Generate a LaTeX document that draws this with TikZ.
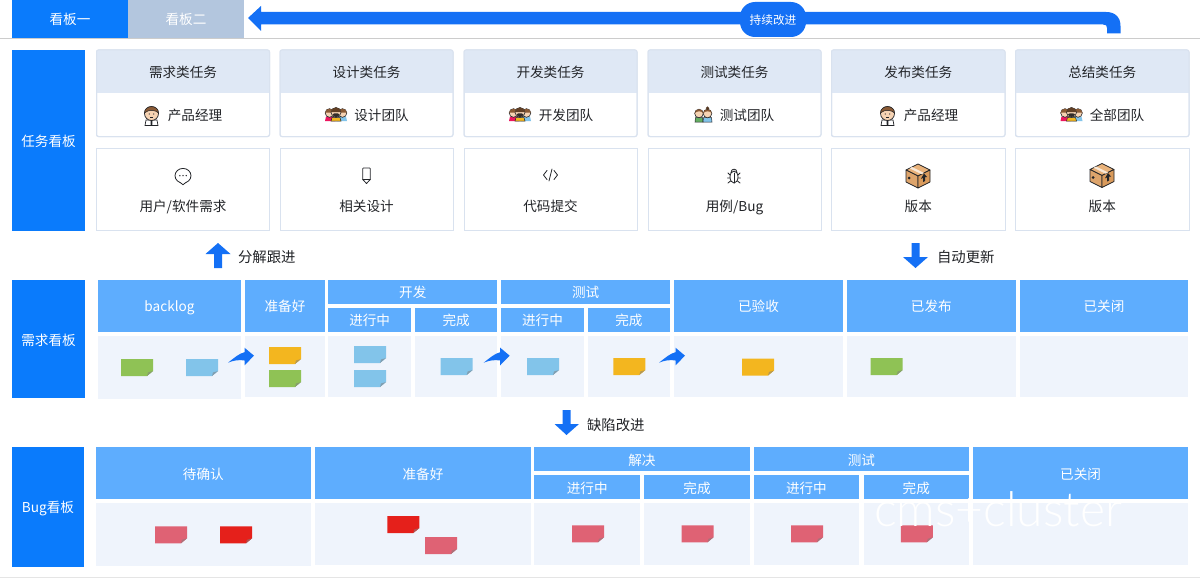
\documentclass[tikz,border=0pt]{standalone}
\usepackage{fontspec}
\setmainfont{Noto Sans CJK SC}
\newfontfamily\wmfont{Lato Light}
\definecolor{prim}{HTML}{0A7BFC}
\definecolor{arr}{HTML}{1470F5}
\definecolor{hdr}{HTML}{5EADFE}
\definecolor{bodyc}{HTML}{EFF4FC}
\definecolor{cardh}{HTML}{DFE8F5}
\definecolor{cardb}{HTML}{D9E2EF}
\definecolor{txt}{HTML}{222428}
\definecolor{tabb}{HTML}{B3C6DE}
\definecolor{sgreen}{HTML}{8FC255}
\definecolor{sblue}{HTML}{82C4EA}
\definecolor{sorange}{HTML}{F3B61F}
\definecolor{spink}{HTML}{DF6274}
\definecolor{sred}{HTML}{E5201B}
\definecolor{skin}{HTML}{F6D3B3}
\definecolor{hair}{HTML}{8A5A35}
\definecolor{boxa}{HTML}{E9B27A}
\definecolor{boxb}{HTML}{D99A5B}
\tikzset{
  every node/.style={inner sep=0pt,outer sep=0pt,text height=12pt,text depth=0pt,font=\fontsize{13.6}{16}\selectfont},
  blockbox/.style={fill=prim,text=white},
  tabone/.style={fill=prim,text=white},
  tabtwo/.style={fill=tabb,text=white},
  hdrbox/.style={fill=hdr,text=white},
  bodybox/.style={fill=bodyc},
  cardhead/.style={fill=cardh,text=txt},
  cardouter/.style={draw=cardb,line width=1pt,rounded corners=2pt},
  cardlow/.style={draw=cardb,line width=1pt,fill=white},
  lbl/.style={text=txt},
  caption/.style={text=txt,anchor=west,font=\fontsize{14.4}{16}\selectfont},
  icon/.style={draw=txt,line width=0.8pt,line join=round,line cap=round},
  pics/manager/.style={code={
    \fill[white,draw=txt,line width=.7pt] (-6.5,10) -- (-5.5,4.5) -- (5.5,4.5) -- (6.5,10) -- cycle;
    \fill[txt] (-1,4.5) -- (1,4.5) -- (0.7,10) -- (-0.7,10) -- cycle;
    \fill[skin,draw=txt,line width=.7pt] (0,-2) circle (7);
    \fill[hair,draw=txt,line width=.5pt] (-7,-2.5) .. controls (-7,-11) and (7,-11) .. (7,-2.5) .. controls (4.5,-5.5) and (-3,-6.5) .. (-7,-2.5) -- cycle;
    \fill[txt] (-2.3,-1.5) circle (.6) (2.3,-1.5) circle (.6);
    \draw[txt,line width=.5pt] (-1.3,1.5) .. controls (-.5,2.3) and (.5,2.3) .. (1.3,1.5);
  }},
  pics/team/.style={code={
    \fill[sred!70!magenta] (-11,7) -- (-10,2.5) -- (-3,2.5) -- (-1,7) -- cycle;
    \fill[sblue] (11,7) -- (10,2.5) -- (3,2.5) -- (1,7) -- cycle;
    \fill[skin,draw=txt,line width=.6pt] (-6.5,-1) circle (4.3);
    \fill[skin,draw=txt,line width=.6pt] (6.5,-1) circle (4.3);
    \fill[hair] (-10.8,-1.5) .. controls (-10,-6.5) and (-3,-6.5) .. (-2.2,-1.5) -- cycle;
    \fill[hair] (10.8,-1.5) .. controls (10,-6.5) and (3,-6.5) .. (2.2,-1.5) -- cycle;
    \fill[sorange,draw=txt,line width=.5pt] (-5,7) -- (-4,3.5) -- (4,3.5) -- (5,7) -- cycle;
    \fill[skin,draw=txt,line width=.6pt] (0,-1.5) circle (5);
    \fill[hair!70!black] (-5,-2) .. controls (-4.5,-8) and (4.5,-8) .. (5,-2) -- cycle;
    \fill[txt!85!hair] (-3.5,.2) .. controls (-2,-1) and (2,-1) .. (3.5,.2) .. controls (3,4) and (-3,4) .. (-3.5,.2) -- cycle;
  }},
  pics/testers/.style={code={
    \fill[sgreen!70!teal,draw=txt,line width=.5pt] (-8.5,7.5) -- (-8,3) -- (-1,3) -- (-.5,7.5) -- cycle;
    \fill[sblue,draw=txt,line width=.5pt] (8.5,7.5) -- (8,3) -- (0,3) -- (-.5,7.5) -- cycle;
    \fill[skin,draw=txt,line width=.6pt] (-4.5,-1) circle (4.3);
    \fill[skin,draw=txt,line width=.6pt] (4,-1) circle (4.3);
    \fill[hair] (-8.8,-1.5) .. controls (-8,-6.5) and (-1,-6.5) .. (-.2,-1.5) .. controls (-3,-4) and (-6,-3.5) .. (-8.8,-1.5) -- cycle;
    \fill[hair] (-.3,-1.5) .. controls (.5,-6.5) and (7.5,-6.5) .. (8.3,-1.5) .. controls (6,-4) and (2,-3.5) .. (-.3,-1.5) -- cycle;
    \fill[hair!60!black] (4,-6.3) circle (1.8);
  }},
  pics/parcel/.style={code={
    \fill[boxa,draw=txt,line width=.7pt,line join=round] (0,-12) -- (12,-6) -- (0,0) -- (-12,-6) -- cycle;
    \fill[boxb!90!white,draw=txt,line width=.7pt,line join=round] (-12,-6) -- (0,0) -- (0,12) -- (-12,6) -- cycle;
    \fill[boxb,draw=txt,line width=.7pt,line join=round] (12,-6) -- (0,0) -- (0,12) -- (12,6) -- cycle;
    \fill[white!70!boxa] (-6,-9) -- (6,-3) -- (3.6,-1.8) -- (-8.4,-7.8) -- cycle;
    \fill[txt] (6,-2.5) -- (9,1) -- (7,1) -- (7,5) -- (5,6) -- (5,2) -- (3,2.8) -- cycle;
    \fill[txt] (-9,2) circle (1.5);
  }},
  pics/bubble/.style={code={
    \draw[icon,fill=white] (0,-.3) ellipse (8 and 7.3);
    \fill[white] (-2.6,6.2) -- (2.6,6.2) -- (0,8.7) -- cycle;
    \draw[icon] (-2.6,6.7) -- (0,8.7) -- (2.6,6.7);
    \fill[txt] (-3.2,-.3) circle (.75) (0,-.3) circle (.75) (3.2,-.3) circle (.75);
  }},
  pics/pencil/.style={code={
    \draw[icon] (-3.7,-7) .. controls (-3.7,-7.5) .. (-3,-7.5) -- (3,-7.5) .. controls (3.7,-7.5) .. (3.7,-7) -- (3.7,4) -- (0,8) -- (-3.7,4) -- cycle;
    \draw[icon] (-3.7,4) -- (3.7,4);
  }},
  pics/codemark/.style={code={
    \draw[icon] (-3.5,-4.5) -- (-7,0) -- (-3.5,4.5);
    \draw[icon] (3.5,-4.5) -- (7,0) -- (3.5,4.5);
    \draw[icon] (1.5,-6) -- (-1.5,6);
  }},
  pics/bugmark/.style={code={
    \draw[icon] (0,1) ellipse (4 and 6);
    \draw[icon] (-3,-3.5) .. controls (-3,-8) and (3,-8) .. (3,-3.5);
    \draw[icon] (0,-3) -- (0,7);
    \draw[icon] (-4,-1) -- (-6,-3) (4,-1) -- (6,-3) (-4,2) -- (-6.5,2) (4,2) -- (6.5,2) (-3.5,5) -- (-6,7) (3.5,5) -- (6,7);
  }}
}
\newcommand{\rbox}[6]{\node[#1,minimum width={(#4-#2)*1pt},minimum height={(#5-#3)*1pt}] (#6) at ({(#2+#4)/2},{(#3+#5)/2})}
\newcommand{\sticky}[3]{%
  \fill[#3] (#1,#2) -- ++(32,0) -- ++(0,12) -- ++(-6,5) -- ++(-26,0) -- cycle;
  \fill[#3!45!gray] ({#1+26},{#2+17}) -- ({#1+32},{#2+12}) -- ({#1+27},{#2+13.5}) -- cycle;}
\newcommand{\curvearrow}[1]{%
  \fill[arr] (#1,362.7) .. controls ({#1+6},358) and ({#1+11},353.5) .. ({#1+16.5},352.2) -- ({#1+16.5},347.7) -- ({#1+26},355.7) -- ({#1+16.5},365.3) -- ({#1+16.5},360.5) .. controls ({#1+11},359.5) and ({#1+5},360.5) .. (#1,362.7) -- cycle;}
\newcommand{\cardset}[7]{%
  \path[cardouter,fill=white] (#2,50) rectangle (#3,136.5);
  \begin{scope}
    \clip[rounded corners=2pt] (#2,50) rectangle (#3,136.5);
    \rbox{cardhead}{#2}{50}{#3}{92.7}{h#1} {#4};
  \end{scope}
  \path[cardouter] (#2,50) rectangle (#3,136.5);
  \node[lbl] (r#1) at (#7,114.5) {#6};
  \rbox{cardlow}{#2+1}{148}{#3-1}{230.7}{l#1} {};
  \node[lbl] (t#1) at ({(#2+#3)/2},205) {#5};}
\begin{document}
\begin{tikzpicture}[x=1pt,y=-1pt]
\useasboundingbox (0,0) rectangle (1200,578);
\fill[white] (0,0) rectangle (1200,578);
\draw[color=black!20,line width=1pt] (0,38.5) -- (1200,38.5);
\draw[color=black!10,line width=1pt] (0,577.5) -- (1200,577.5);
\rbox{tabone}{12}{0}{128}{38}{taba} {看板一};
\rbox{tabtwo}{128}{0}{244}{38}{tabb} {看板二};
\fill[arr] (248,18) -- (261,6) -- (261,12) -- (1106,12) .. controls (1115,12) and (1120.5,17) .. (1120.5,26) -- (1120.5,33.5) -- (1107,33.5) -- (1107,28) .. controls (1107,25.5) and (1106,24.5) .. (1103,24.5) -- (261,24.5) -- (261,31) -- cycle;
\node[fill=arr,text=white,rounded corners=15pt,minimum width=66pt,minimum height=35pt,text height=10.5pt,font=\fontsize{11.7}{14}\selectfont] (pill) at (773,19.5) {持续改进};
\rbox{blockbox}{12}{50}{85}{231}{sa} {任务看板};
\rbox{blockbox}{12}{280}{85}{398}{sb} {需求看板};
\rbox{blockbox}{12}{447}{84}{566.5}{sc} {Bug看板};
\cardset{a}{96.5}{269.5}{需求类任务}{用户/软件需求}{产品经理}{195}
\cardset{b}{280}{453}{设计类任务}{相关设计}{设计团队}{381.5}
\cardset{c}{464}{637}{开发类任务}{代码提交}{开发团队}{566}
\cardset{d}{648}{821}{测试类任务}{用例/Bug}{测试团队}{747}
\cardset{e}{831.5}{1005}{发布类任务}{版本}{产品经理}{931}
\cardset{f}{1015.5}{1189}{总结类任务}{版本}{全部团队}{1117}
\pic at (151.5,115.5) {manager};
\pic at (336,114) {team};
\pic at (520,114) {team};
\pic at (703.5,114.5) {testers};
\pic at (887.5,115.5) {manager};
\pic at (1071.5,114) {team};
\pic at (183,176) {bubble};
\pic at (366.5,175.5) {pencil};
\pic at (550.5,175) {codemark};
\pic at (734,176) {bugmark};
\pic at (918,176) {parcel};
\pic at (1102,175.5) {parcel};
\fill[arr] (218,243) -- (230.5,254) -- (222,254) -- (222,268) -- (214,268) -- (214,254) -- (205.5,254) -- cycle;
\node[caption] (ca) at (238,256.5) {分解跟进};
\fill[arr] (911.5,243) -- (919.5,243) -- (919.5,257) -- (928,257) -- (915.5,268) -- (903,257) -- (911.5,257) -- cycle;
\node[caption] (cb) at (937,256.5) {自动更新};
\fill[arr] (562.5,410) -- (570.5,410) -- (570.5,424) -- (579,424) -- (566.5,435) -- (554.5,424) -- (562.5,424) -- cycle;
\node[caption] (cc) at (587,424.5) {缺陷改进};
\rbox{hdrbox}{97.7}{280}{241.3}{331.7}{d1} {backlog};
\rbox{hdrbox}{245.3}{280}{324.7}{331.7}{d2} {准备好};
\rbox{hdrbox}{328.3}{280}{497.3}{303.7}{d3} {开发};
\rbox{hdrbox}{328.3}{307.7}{411}{331.7}{d4} {进行中};
\rbox{hdrbox}{415}{307.7}{497.3}{331.7}{d5} {完成};
\rbox{hdrbox}{501.3}{280}{670}{303.7}{d6} {测试};
\rbox{hdrbox}{501.3}{307.7}{583.7}{331.7}{d7} {进行中};
\rbox{hdrbox}{587.7}{307.7}{670}{331.7}{d8} {完成};
\rbox{hdrbox}{674}{280}{843}{331.7}{d9} {已验收};
\rbox{hdrbox}{847}{280}{1015.7}{331.7}{d10} {已发布};
\rbox{hdrbox}{1019.7}{280}{1188.3}{331.7}{d11} {已关闭};
\rbox{bodybox}{97.7}{336}{241.3}{398.5}{db1} {};
\rbox{bodybox}{245.3}{336}{324.7}{397.3}{db2} {};
\rbox{bodybox}{328.3}{336}{411}{397.3}{db3} {};
\rbox{bodybox}{415}{336}{497.3}{397.3}{db4} {};
\rbox{bodybox}{501.3}{336}{583.7}{397.3}{db5} {};
\rbox{bodybox}{587.7}{336}{670}{397.3}{db6} {};
\rbox{bodybox}{674}{336}{843}{397.3}{db7} {};
\rbox{bodybox}{847}{336}{1015.7}{397.3}{db8} {};
\rbox{bodybox}{1019.7}{336}{1188.3}{397.3}{db9} {};
\sticky{121}{359}{sgreen}
\sticky{186}{359}{sblue}
\sticky{269}{347}{sorange}
\sticky{269}{370}{sgreen}
\sticky{354}{346}{sblue}
\sticky{354}{370}{sblue}
\sticky{440.7}{358}{sblue}
\sticky{527}{358}{sblue}
\sticky{613.3}{358}{sorange}
\sticky{742}{358.5}{sorange}
\sticky{870.7}{358}{sgreen}
\curvearrow{228}
\curvearrow{483.7}
\curvearrow{659}
\rbox{hdrbox}{95.7}{447}{311}{499.3}{b1} {待确认};
\rbox{hdrbox}{315.3}{447}{530.7}{499.3}{b2} {准备好};
\rbox{hdrbox}{534.2}{447}{749.6}{471}{b3} {解决};
\rbox{hdrbox}{534.2}{475}{640.2}{499.3}{b4} {进行中};
\rbox{hdrbox}{644.4}{475}{749.6}{499.3}{b5} {完成};
\rbox{hdrbox}{753.8}{447}{968.9}{471}{b6} {测试};
\rbox{hdrbox}{753.8}{475}{859}{499.3}{b7} {进行中};
\rbox{hdrbox}{863.7}{475}{968.9}{499.3}{b8} {完成};
\rbox{hdrbox}{973}{447}{1188.2}{499.3}{b9} {已关闭};
\rbox{bodybox}{95.7}{503}{311}{566}{bb1} {};
\rbox{bodybox}{315.3}{503}{530.7}{565}{bb2} {};
\rbox{bodybox}{534.2}{503}{640.2}{565}{bb3} {};
\rbox{bodybox}{644.4}{503}{749.6}{565}{bb4} {};
\rbox{bodybox}{753.8}{503}{859}{565}{bb5} {};
\rbox{bodybox}{863.7}{503}{968.9}{565}{bb6} {};
\rbox{bodybox}{973}{503}{1188.2}{565}{bb7} {};
\sticky{155}{526.3}{spink}
\sticky{220}{526.3}{sred}
\sticky{387.3}{516}{sred}
\sticky{425}{537}{spink}
\sticky{572}{525.3}{spink}
\sticky{681.5}{525.3}{spink}
\sticky{791}{525.3}{spink}
\sticky{900.8}{525.3}{spink}
\node[anchor=base,text=white,text height=34pt,font=\wmfont\fontsize{48}{50}\selectfont] (wm) at (998,526) {cms+cluster};
\end{tikzpicture}
\end{document}
